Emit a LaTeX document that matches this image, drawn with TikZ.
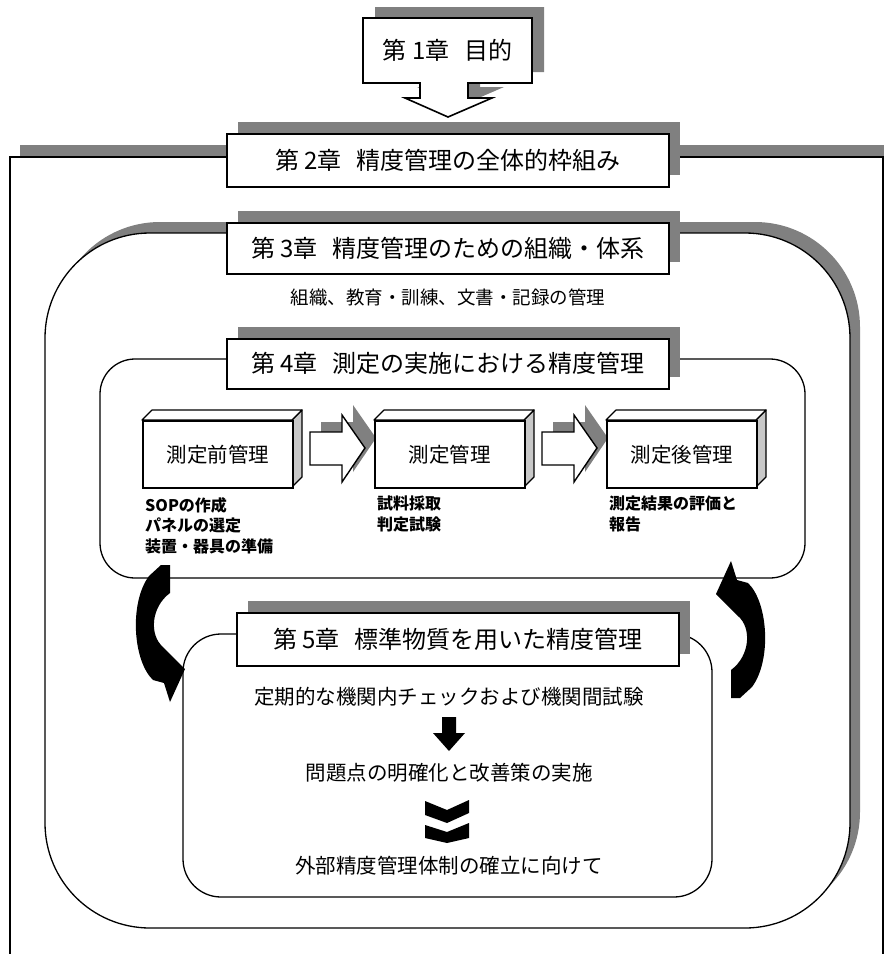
\documentclass[tikz,border=0pt]{standalone}
\usepackage{fontspec}
\newfontfamily\jp{Noto Sans CJK JP}
\definecolor{shadowgray}{RGB}{128,128,128}
\definecolor{sidegray}{RGB}{200,200,200}
\newcommand\cubebox[3]{%
  \draw[fill=sidegray,line width=1.2pt,line join=round] (#2+150,420) -- (#2+160,410) -- (#2+160,477) -- (#2+150,487) -- cycle;
  \draw[fill=white,line width=1.2pt,line join=round] (#2,420) -- (#2+10,410) -- (#2+160,410) -- (#2+150,420) -- cycle;
  \node[cubefront] (#1) at (#2,420) {#3};
}
\newcommand\blockarrow[1]{%
  \fill[shadowgray,shift={(11,-10)}] (#1,432) -- (#1+32,432) -- (#1+32,415) -- (#1+55,448) -- (#1+32,482) -- (#1+32,465) -- (#1,465) -- cycle;
  \draw[fill=white,line width=1.4pt,line join=miter] (#1,432) -- (#1+32,432) -- (#1+32,415) -- (#1+55,448) -- (#1+32,482) -- (#1+32,465) -- (#1,465) -- cycle;
}
\newcommand\curvedarrowpath{%
  (731,561) -- (737,580) -- (748,583) .. controls (768,602) and (772,660) .. (752,687) -- (740,698) -- (731,698) -- (731,670) .. controls (750,656) and (752,628) .. (738,616) -- (716,594) -- cycle}
\begin{document}
\begin{tikzpicture}[x=1pt,y=-1pt,
  titlebox/.style={draw=black,fill=white,line width=1.6pt,anchor=north west,inner sep=0pt,
    font=\jp\fontsize{24}{28}\selectfont},
  cubefront/.style={draw=black,fill=white,line width=1.6pt,anchor=north west,inner sep=0pt,
    minimum width=150pt,minimum height=67pt,font=\jp\fontsize{20.5}{24}\selectfont},
  frameline/.style={draw=black,fill=white,line width=1.3pt},
  sublab/.style={anchor=north west,align=left,inner sep=0pt,font=\jp\bfseries\fontsize{16}{20.5}\selectfont},
  bodytext/.style={inner sep=0pt,font=\jp\fontsize{20.5}{24}\selectfont}]
\useasboundingbox (0,0) rectangle (884,954);

% chapter 2 frame
\fill[shadowgray] (20,145) rectangle (895,975);
\fill[white] (10,157) rectangle (883,975);
\draw[line width=1.3pt] (10,975) -- (10,157) -- (883,157) -- (883,975);

% chapter 2 box
\fill[shadowgray] (238,122) rectangle (680,175);
\node[titlebox,minimum width=442pt,minimum height=53pt] (c2) at (226,133) {第 2章\hspace{0.6em}精度管理の全体的枠組み};

% chapter 1 callout
\fill[shadowgray,shift={(12,-11)}] (363,18) -- (532,18) -- (532,83) -- (468,83) -- (468,98) -- (492,98) -- (448,117) -- (405,98) -- (420,98) -- (420,83) -- (363,83) -- cycle;
\draw[fill=white,line width=1.6pt,line join=miter] (363,18) -- (532,18) -- (532,83) -- (468,83) -- (468,98) -- (492,98) -- (448,117) -- (405,98) -- (420,98) -- (420,83) -- (363,83) -- cycle;
\node[inner sep=0pt,font=\jp\fontsize{24}{28}\selectfont] (c1) at (447.5,50) {第 1章\hspace{0.6em}目的};

% chapter 3 frame
\fill[shadowgray,rounded corners=105pt] (55,222) rectangle (860,917);
\draw[frameline,rounded corners=105pt] (45,233) rectangle (850,928);
\fill[shadowgray] (238,211) rectangle (680,262);
\node[titlebox,minimum width=442pt,minimum height=51pt] (c3) at (226,222) {第 3章\hspace{0.6em}精度管理のための組織・体系};
\node[inner sep=0pt,font=\jp\fontsize{18.5}{22}\selectfont] (c3sub) at (448,297) {組織、教育・訓練、文書・記録の管理};

% chapter 4 frame
\draw[frameline,rounded corners=35pt] (100,359) rectangle (805,578);
\fill[shadowgray] (238,327) rectangle (680,377);
\node[titlebox,minimum width=442pt,minimum height=50pt] (c4) at (226,338) {第 4章\hspace{0.6em}測定の実施における精度管理};

\blockarrow{310}
\blockarrow{542}
\cubebox{pre}{142}{測定前管理}
\cubebox{mid}{374}{測定管理}
\cubebox{post}{606}{測定後管理}

\node[sublab] (prelab) at (145,497) {SOPの作成\\パネルの選定\\装置・器具の準備};
\node[sublab] (midlab) at (377,496) {試料採取\\判定試験};
\node[sublab] (postlab) at (609,496) {測定結果の評価と\\報告};

% chapter 5 frame
\draw[frameline,rounded corners=38pt] (183,634) rectangle (712,897);
\fill[shadowgray] (248,601) rectangle (690,654);
\node[titlebox,minimum width=442pt,minimum height=53pt] (c5) at (236,612) {第 5章\hspace{0.6em}標準物質を用いた精度管理};

\node[bodytext] (t1) at (449,697) {定期的な機関内チェックおよび機関間試験};
\fill[black] (442,717) -- (456,717) -- (456,733) -- (465,733) -- (449,751) -- (433,733) -- (442,733) -- cycle;
\node[bodytext] (t2) at (449,773) {問題点の明確化と改善策の実施};
\fill[black] (425,801) -- (447,810) -- (469,800) -- (469,813) -- (447,823) -- (425,815) -- cycle;
\fill[black] (425,825) -- (447,832) -- (469,823) -- (469,838) -- (447,843) -- (425,838) -- cycle;
\node[bodytext] (t3) at (449,866) {外部精度管理体制の確立に向けて};

% curved arrows
\fill[black] \curvedarrowpath;
\begin{scope}[rotate around={180:(450.5,631.5)}]
\fill[black] \curvedarrowpath;
\end{scope}
\end{tikzpicture}
\end{document}
